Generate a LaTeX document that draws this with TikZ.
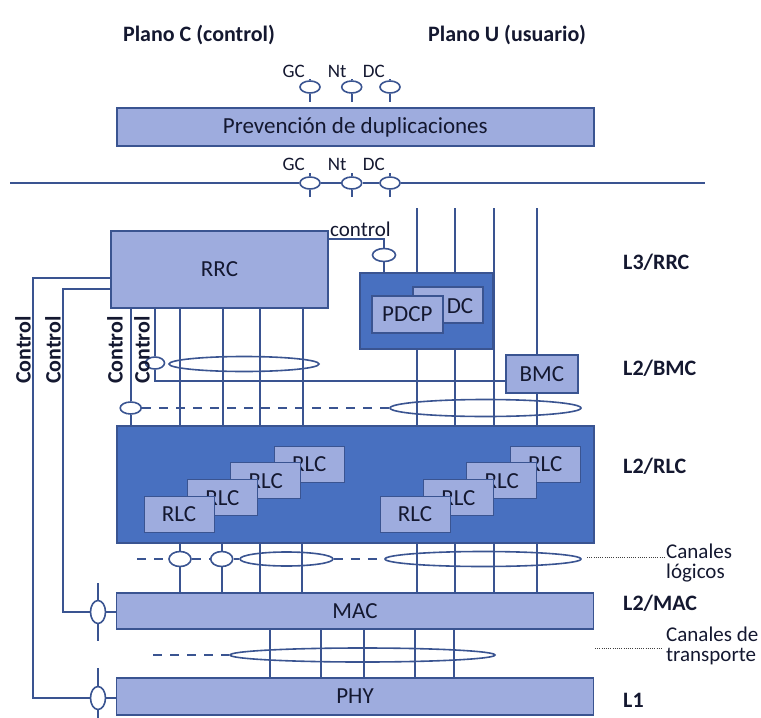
\documentclass[tikz,border=0pt]{standalone}
\usepackage{fontspec}
\setmainfont{Carlito}
\usetikzlibrary{shapes.geometric}

\definecolor{lineblue}{RGB}{58,84,145}
\definecolor{boxlight}{RGB}{158,172,222}
\definecolor{boxdark}{RGB}{72,112,192}
\definecolor{textnavy}{RGB}{20,24,48}

\newcommand{\boxfont}{\fontsize{23}{27}\selectfont}
\newcommand{\labfont}{\fontsize{22}{26}\selectfont\bfseries}
\newcommand{\sapfont}{\fontsize{19}{22}\selectfont}
\newcommand{\notefont}{\fontsize{21}{20}\selectfont}

\begin{document}
\begin{tikzpicture}[x=1pt,y=-1pt,every node/.style={text=textnavy},
  link/.style={draw=lineblue,line width=1.6pt},
  dashlink/.style={link,dash pattern=on 9pt off 8pt},
  dotlink/.style={draw=black!75,line width=1pt,dash pattern=on 1pt off 1.2pt},
  layerbox/.style={rectangle,draw=lineblue,fill=boxlight,line width=1.6pt,font=\boxfont,inner sep=0pt},
  darkbox/.style={rectangle,draw=lineblue,fill=boxdark,line width=1.6pt,inner sep=0pt},
  rlcbox/.style={rectangle,draw=lineblue,fill=boxlight,line width=1pt,minimum width=70pt,minimum height=36pt,inner sep=0pt,font=\boxfont},
  sap/.style={ellipse,draw=lineblue,fill=white,line width=1.6pt,inner sep=0pt},
  saplabel/.style={anchor=base east,inner sep=0pt,font=\sapfont},
  layername/.style={anchor=west,inner sep=0pt,font=\labfont}]
\useasboundingbox (0,0) rectangle (761,718);

\node[font=\labfont] (planC) at (199,35) {Plano C (control)};
\node[font=\labfont] (planU) at (507,35) {Plano U (usuario)};

\node[layerbox,minimum width=477pt,minimum height=38pt] (prev) at (355.3,127) {Prevención de duplicaciones};

\foreach \n/\x/\t in {gc/310/GC,nt/351.7/Nt,dc/390/DC}{
  \node[sap,minimum width=20pt,minimum height=12pt] (\n1) at (\x,87) {};
  \node[sap,minimum width=20pt,minimum height=12pt] (\n2) at (\x,183) {};
  \node[saplabel] (\n t1) at (\x-5,77) {\t};
  \node[saplabel] (\n t2) at (\x-5,170) {\t};
  \draw[link] (\x,79) -- (\n1.north);
  \draw[link] (\n1.south) -- (\x,102);
  \draw[link] (\x,173) -- (\n2.north);
  \draw[link] (\n2.south) -- (\x,197);
}
\draw[link] (10,183) -- (gc2.west) (gc2.east) -- (nt2.west) (nt2.east) -- (dc2.west) (dc2.east) -- (705,183);

\node[layerbox,minimum width=217pt,minimum height=77pt] (rrc) at (219.5,269.5) {RRC};

\node[darkbox,minimum width=133pt,minimum height=76pt] (pdcpgrp) at (426.5,311) {};
\node[layerbox,minimum width=70pt,minimum height=36pt] (dcbox) at (447.8,304.7) {};
\node[font=\boxfont,inner sep=0pt] (dctext) at (460,306) {DC};
\node[layerbox,minimum width=71pt,minimum height=37pt] (pdcp) at (407.3,314.3) {PDCP};

\node[layerbox,minimum width=72pt,minimum height=38pt] (bmc) at (541.8,374) {BMC};

\node[darkbox,minimum width=477pt,minimum height=117pt] (rlc) at (355.3,484.5) {};
\foreach \i in {3,2,1,0}{
  \node[rlcbox] (rlcA\i) at (179+43.4*\i,514.5-16.8*\i) {RLC};
  \node[rlcbox] (rlcB\i) at (415+43.4*\i,514.5-16.8*\i) {RLC};
}

\node[layerbox,minimum width=477pt,minimum height=36pt] (mac) at (355,611) {MAC};
\node[layerbox,minimum width=477pt,minimum height=37pt] (phy) at (355,696.5) {PHY};

% channel groups
\node[sap,minimum width=150pt,minimum height=15pt] (rbpool) at (244,364) {};
\node[sap,minimum width=191pt,minimum height=17pt] (bcpool) at (485.5,408) {};
\node[sap,minimum width=93pt,minimum height=14pt] (logA) at (286.5,559) {};
\node[sap,minimum width=196pt,minimum height=15pt] (logB) at (483,559) {};
\node[sap,minimum width=265pt,minimum height=14pt] (trch) at (362.5,655) {};

\node[sap,minimum width=23pt,minimum height=13pt] (pdcpC) at (384,255) {};
\node[sap,minimum width=19pt,minimum height=12pt] (bmcC) at (155,363) {};
\node[sap,minimum width=21pt,minimum height=12pt] (rlcC) at (130.7,408) {};
\node[sap,minimum width=22pt,minimum height=15pt] (logC1) at (180,559) {};
\node[sap,minimum width=22pt,minimum height=15pt] (logC2) at (221.7,559) {};
\node[sap,minimum width=15pt,minimum height=23pt] (macC) at (98,612) {};
\node[sap,minimum width=15pt,minimum height=23pt] (phyC) at (98,698) {};

\draw[link] (rrc.east |- 0,239) -| (pdcpC.north);
\draw[link] (pdcpC.south) -- (pdcpC.south |- pdcpgrp.north);
\node[anchor=base west,inner sep=0pt,font=\notefont] (ctltext) at (330,236) {control};

\foreach \x in {417,455}{
  \draw[link] (\x,208) -- (\x,0 |- pdcpgrp.north);
  \draw[link] (\x,0 |- pdcpgrp.south) -- (\x,0 |- rlc.north);
}
\draw[link] (494,208) -- (494,0 |- rlc.north);
\draw[link] (537,208) -- (537,0 |- bmc.north);
\draw[link] (537,0 |- bmc.south) -- (537,0 |- rlc.north);

\draw[link] (130.7,0 |- rrc.south) -- (rlcC.north);
\draw[link] (rlcC.south) -- (130.7,0 |- rlc.north);
\draw[link] (155,0 |- rrc.south) -- (bmcC.north);
\draw[link] (bmcC.south) |- (bmc.west |- 0,381);
\foreach \x in {180,222.7,260,302.7}
  \draw[link] (\x,0 |- rrc.south) -- (\x,0 |- rlc.north);

\draw[link] (logC1.north |- rlc.south) -- (logC1.north);
\draw[link] (logC1.south) -- (logC1.south |- mac.north);
\draw[link] (logC2.north |- rlc.south) -- (logC2.north);
\draw[link] (logC2.south) -- (logC2.south |- mac.north);
\foreach \x in {260,302,417,455,494,537}
  \draw[link] (\x,0 |- rlc.south) -- (\x,0 |- mac.north);
\foreach \x in {270,321,364,415,454}
  \draw[link] (\x,0 |- mac.south) -- (\x,0 |- phy.north);

\draw[dashlink] (rlcC.east) -- (bcpool.west);
\draw[dashlink] (137,559) -- (logC1.west) (logC1.east) -- (logC2.west) (logC2.east) -- (logA.west) (logA.east) -- (logB.west);
\draw[dashlink] (153,655) -- (trch.west);

\draw[link] (rrc.west |- 0,278) -| (33,0 |- phyC) -- (phyC.west);
\draw[link] (phyC.east) -- (phy.west |- phyC);
\draw[link] (phyC.north) -- (98,668);
\draw[link] (phyC.south) -- (98,725);
\draw[link] (rrc.west |- 0,289) -| (63,0 |- macC) -- (macC.west);
\draw[link] (macC.east) -- (mac.west |- macC);
\draw[link] (macC.north) -- (98,583);
\draw[link] (macC.south) -- (98,641);

\foreach \x/\n in {23/1,53/2,115/3,142/4}
  \node[rotate=90,font=\labfont] (ctl\n) at (\x,350) {Control};

\node[layername] (l3rrc) at (623,262) {L3/RRC};
\node[layername] (l2bmc) at (623,368) {L2/BMC};
\node[layername] (l2rlc) at (623,466) {L2/RLC};
\node[layername] (l2mac) at (623,603) {L2/MAC};
\node[layername] (l1) at (623,700) {L1};

\node[anchor=west,align=left,font=\notefont,inner sep=0pt] (logch) at (666,563) {Canales\\lógicos};
\node[anchor=west,align=left,font=\notefont,inner sep=0pt] (trtext) at (666,646) {Canales de\\transporte};
\coordinate (logdot) at (587,557);
\coordinate (trdot) at (595,648);
\draw[dotlink] (logdot) -- (logch.west |- logdot);
\draw[dotlink] (trdot) -- ([xshift=-4pt]trtext.west |- trdot);
\end{tikzpicture}
\end{document}
